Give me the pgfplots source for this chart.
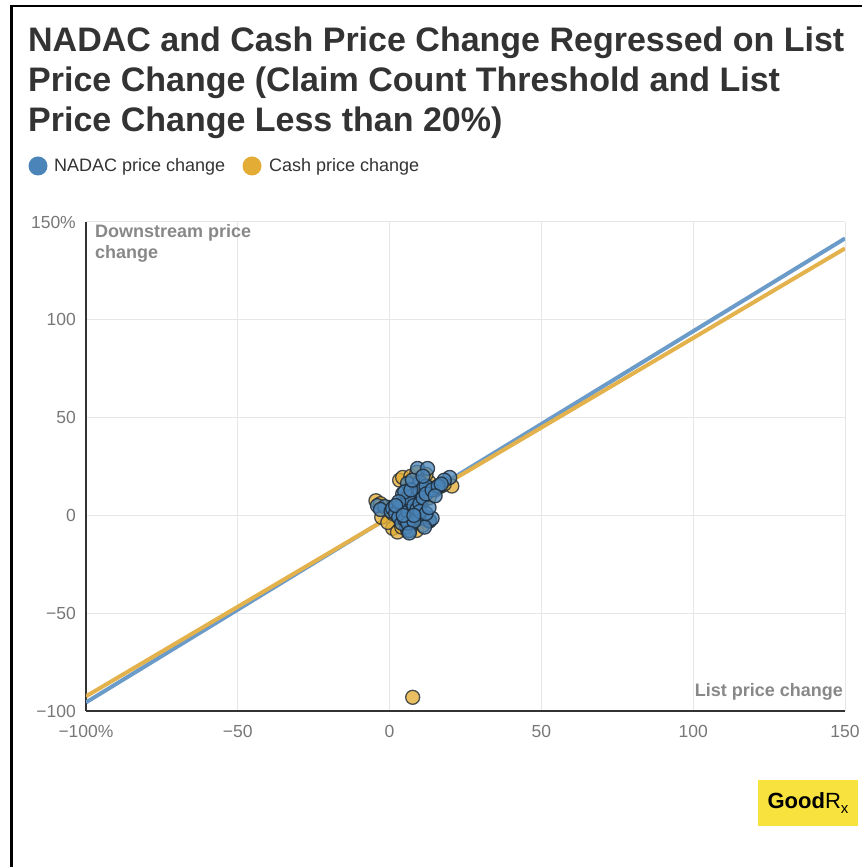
\documentclass[border=0pt]{standalone}
\usepackage{pgfplots}
\pgfplotsset{compat=1.18}
\usepackage{fontspec}
\setmainfont{Liberation Sans}
\definecolor{titlecol}{HTML}{333333}
\definecolor{tickcol}{HTML}{777777}
\definecolor{labcol}{HTML}{888888}
\definecolor{gridcol}{HTML}{E6E6E6}
\definecolor{nadac}{HTML}{4A84B8}
\definecolor{nadacline}{HTML}{6A9BC9}
\definecolor{cash}{HTML}{E3AD35}
\definecolor{cashline}{HTML}{E3B24C}
\definecolor{goodrx}{HTML}{F8E23E}
\definecolor{edge}{HTML}{1E2A36}
\begin{document}
\begin{tikzpicture}[x=1pt,y=1pt]
\path[use as bounding box] (0,0) rectangle (867,867);
\fill[black] (10,0) rectangle (12.5,862);
\fill[black] (10,859.5) rectangle (862,862);
% title
\node[anchor=base west, inner sep=0pt, text=titlecol, font=\fontsize{34}{41}\selectfont\bfseries] at (28,815) {NADAC and Cash Price Change Regressed on List};
\node[anchor=base west, inner sep=0pt, text=titlecol, font=\fontsize{34}{41}\selectfont\bfseries] at (28,775) {Price Change (Claim Count Threshold and List};
\node[anchor=base west, inner sep=0pt, text=titlecol, font=\fontsize{34}{41}\selectfont\bfseries] at (28,735) {Price Change Less than 20\%)};
% legend
\fill[nadac] (38,701) circle (9.5);
\node[anchor=base west, inner sep=0pt, text=titlecol, font=\fontsize{18}{21}\selectfont] at (54,695) {NADAC price change};
\fill[cash] (252,701) circle (9.5);
\node[anchor=base west, inner sep=0pt, text=titlecol, font=\fontsize{18}{21}\selectfont] at (269,695) {Cash price change};
\begin{axis}[
  at={(86pt,156pt)}, anchor=south west,
  scale only axis, width=759pt, height=489pt,
  xmin=-100, xmax=150, ymin=-100, ymax=150,
  xtick={-100,-50,0,50,100,150},
  ytick={-100,-50,0,50,100,150},
  xticklabels={−100\%,−50,0,50,100,150},
  yticklabels={−100,−50,0,50,100,150\%},
  grid=major,
  grid style={gridcol, line width=1pt},
  axis x line*=bottom, axis y line*=left,
  axis line style={titlecol, line width=1.5pt, -},
  major tick style={draw=none},
  ticklabel style={font=\fontsize{17.5}{20}\selectfont, text=tickcol, inner sep=0pt},
  xticklabel style={anchor=center, yshift=-20pt},
  yticklabel style={anchor=east, xshift=-10pt},
]
\addplot[nadacline, line width=4pt] coordinates {(-100,-95.6) (150,141.6)};
\addplot[cashline, line width=4pt] coordinates {(-100,-92.5) (150,136.5)};
\addplot[only marks, mark=*, mark size=7pt, mark options={fill=cash, fill opacity=0.78, draw=edge, draw opacity=0.8, line width=1.3pt}] coordinates {
(-4.5,7.5) (-2.6,-1) (3.3,18) (4.3,19.4) (1,-6.6) (8.9,-7.7) (20.5,15) (14,12.8)
(-0.6,-3.6) (2.6,-8.5) (11,-5) (7,20) (10,19) (13,17) (4,-6) (2,3) (4,5) (6,6)
(8,8) (10,10) (12,12) (5,1) (7,3) (9,5) (11,7) (3,0) (6,-3) (9,-2) (12,-1)
(15,13) (17,15) (18,16) (8,13) (6,11) (10,15) (13,9) (0,4) (-3,6) (1,1)
(12,21) (9,22) (6,-8) (13,-3) (7.6,-93)
};
\addplot[only marks, mark=*, mark size=7pt, mark options={fill=nadac, fill opacity=0.75, draw=edge, draw opacity=0.85, line width=1.3pt}] coordinates {
(-4,5) (-1.6,4.5) (-3,3) (0.5,2) (1,3.6) (3.3,3.6) (5.6,4) (2,1) (3,-1) (4,6)
(4.3,11) (5.9,16.4) (9.2,24) (12.5,24) (9.9,17) (19.8,19.4) (18,18) (15.8,14.3)
(13.8,13.8) (9.2,9.2) (7.6,-1) (9.9,-1.5) (13.2,-2.6) (14,-1.5) (11.5,-6) (5.6,-6)
(6.6,-7.7) (4,-4) (5,-2) (6,2) (7,7) (8,10) (10,12) (11,14) (12,15) (6,9) (5,12)
(7,13) (8,5) (9,3) (10,6) (11,9) (12,11) (14,13) (16,15) (17,16) (3,7) (2,5)
(6,-4) (8,-3) (10,2) (12,1) (13,4) (7.5,18) (11,20) (15,10) (4.5,0) (6.5,-9) (8,0)
};
\end{axis}
% axis titles
\node[anchor=base west, inner sep=0pt, text=labcol, font=\fontsize{18}{21}\selectfont\bfseries] at (95,629) {Downstream price};
\node[anchor=base west, inner sep=0pt, text=labcol, font=\fontsize{18}{21}\selectfont\bfseries] at (95,608) {change};
\node[anchor=base east, inner sep=0pt, text=labcol, font=\fontsize{18}{21}\selectfont\bfseries] at (843,170) {List price change};
% logo
\fill[goodrx] (758,41) rectangle (858,87);
\node[anchor=center, inner sep=0pt, text=black, font=\fontsize{22}{22}\selectfont] at (808,64) {\textbf{Good}R\raisebox{-0.35ex}{\fontsize{15}{15}\selectfont x}};
\end{tikzpicture}
\end{document}
